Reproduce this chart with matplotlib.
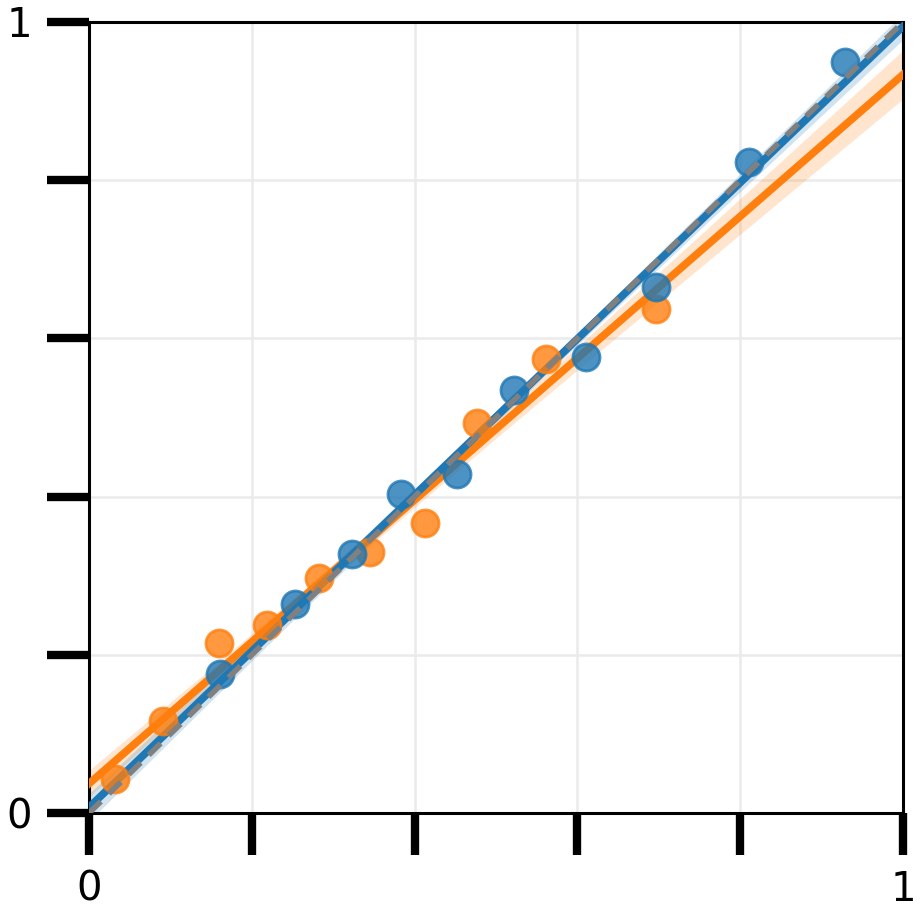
import numpy as np
import matplotlib
matplotlib.use("Agg")
import matplotlib.pyplot as plt

# data
blue_x = [0.161, 0.253, 0.323, 0.383, 0.452, 0.522, 0.611, 0.697, 0.811, 0.929]
blue_y = [0.176, 0.264, 0.327, 0.403, 0.429, 0.535, 0.576, 0.665, 0.823, 0.950]
orange_x = [0.032, 0.091, 0.160, 0.219, 0.283, 0.345, 0.413, 0.477, 0.561, 0.697]
orange_y = [0.043, 0.116, 0.215, 0.238, 0.297, 0.330, 0.367, 0.493, 0.574, 0.637]
ticks = [0, 0.2, 0.4, 0.6, 0.8, 1.0]
tick_labels = ["0", "", "", "", "", "1"]


def fit_band(x, y, grid):
    x = np.asarray(x)
    y = np.asarray(y)
    n = len(x)
    b, a = np.polyfit(x, y, 1)
    pred = a + b * grid
    resid = y - (a + b * x)
    s = np.sqrt(np.sum(resid ** 2) / (n - 2))
    se = s * np.sqrt(1 / n + (grid - x.mean()) ** 2 / np.sum((x - x.mean()) ** 2))
    return pred, pred - se, pred + se


fig = plt.figure(figsize=(9.21, 9.16), dpi=100)
ax = fig.add_axes([0.0966, 0.1124, 0.884, 0.8636])

grid = np.linspace(0, 1, 200)
for x, y, c in [(orange_x, orange_y, "#ff7f0e"), (blue_x, blue_y, "#1f77b4")]:
    pred, lo, hi = fit_band(x, y, grid)
    ax.fill_between(grid, lo, hi, color=c, alpha=0.2, lw=0, zorder=2)
    ax.plot(grid, pred, color=c, lw=5.5, zorder=3)
    ax.scatter(x, y, s=380, color=c, alpha=0.8, edgecolor=c, linewidth=2, zorder=4)

ax.plot([0, 1], [0, 1], color="gray", lw=4, ls=(0, (3, 2)), zorder=5)

ax.set_xlim(0, 1)
ax.set_ylim(0, 1)
ax.set_xticks(ticks)
ax.set_yticks(ticks)
ax.set_xticklabels(tick_labels)
ax.set_yticklabels(tick_labels)
ax.tick_params(length=30, width=6, labelsize=29, pad=11)
ax.grid(color="#ebebeb", lw=1.8)
ax.set_axisbelow(True)
for sp in ax.spines.values():
    sp.set_linewidth(2.2)

fig.savefig("out.png", dpi=100)
